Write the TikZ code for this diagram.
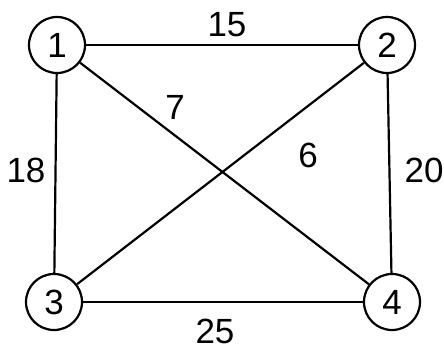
\documentclass[tikz,border=0pt]{standalone}
\usepackage{fontspec}
\setmainfont{Liberation Sans}
\begin{document}
\begin{tikzpicture}[x=1pt,y=-1pt,
  vert/.style={circle,draw,line width=2.2pt,minimum size=56pt,inner sep=0pt,font=\fontsize{35}{35}\selectfont},
  edge/.style={line width=2.2pt},
  wlabel/.style={font=\fontsize{35}{35}\selectfont,inner sep=0pt}]
\useasboundingbox (0,0) rectangle (444,350);
\node[vert] (n1) at (57,45) {1};
\node[vert] (n2) at (387,45) {2};
\node[vert] (n3) at (54,302) {3};
\node[vert] (n4) at (392,302) {4};
\draw[edge] (n1) -- (n2);
\draw[edge] (n1) -- (n3);
\draw[edge] (n1) -- (n4);
\draw[edge] (n2) -- (n3);
\draw[edge] (n2) -- (n4);
\draw[edge] (n3) -- (n4);
\node[wlabel] (w15) at (227,25) {15};
\node[wlabel] (w7) at (175,107) {7};
\node[wlabel] (w6) at (308,155) {6};
\node[wlabel] (w18) at (26,170) {18};
\node[wlabel] (w20) at (424,170) {20};
\node[wlabel] (w25) at (215,331) {25};
\end{tikzpicture}
\end{document}
